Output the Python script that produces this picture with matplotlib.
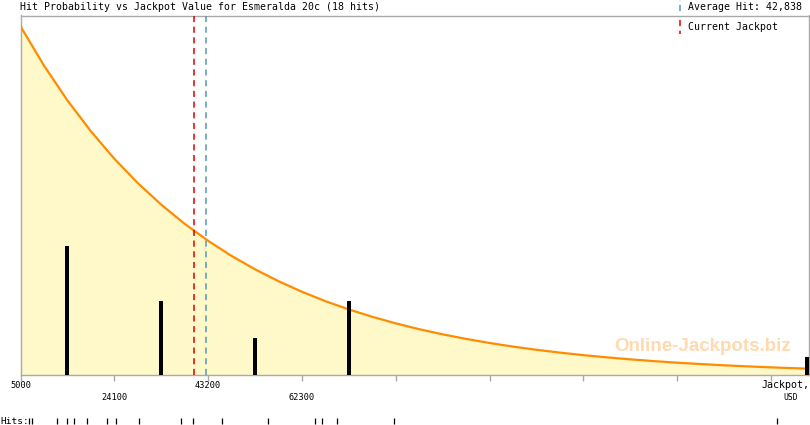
import numpy as np
import matplotlib
matplotlib.use("Agg")
import matplotlib.pyplot as plt
from matplotlib.transforms import blended_transform_factory
from matplotlib.lines import Line2D

# ---------------- data ----------------
title = "Hit Probability vs Jackpot Value for Esmeralda 20c (18 hits)"
hits = [6690, 7300, 12390, 14430, 15850, 18500, 22620, 24400, 29090, 37640,
        40080, 45990, 55350, 64900, 66350, 69400, 81000, 159100]
current_jackpot = 40350
bin_start = 5000
bin_width = 19100
n_bins = 9
tick_values = [5000 + 19100 * k for k in range(9)]
tick_labels = ["5000", "24100", "43200", "62300", "", "", "", "", ""]
# relative hit probability, every 4775 from 5000
curve_x = [5000 + 4775 * i for i in range(35)]
curve_p = [1.000, 0.8875, 0.7876, 0.6990, 0.6203, 0.5505, 0.4886, 0.4336, 0.3848,
           0.3415, 0.3031, 0.2690, 0.2387, 0.2118, 0.1880, 0.1669, 0.1481, 0.1314,
           0.1166, 0.1035, 0.0918, 0.0815, 0.0723, 0.0642, 0.0570, 0.0506, 0.0449,
           0.0398, 0.0353, 0.0314, 0.0278, 0.0247, 0.0219, 0.0195, 0.0173]
x_min, x_max = 5000, 165600

# ---------------- figure ----------------
W, H = 810, 425
fig = plt.figure(figsize=(W / 100, H / 100), dpi=100)
fig.patch.set_facecolor("white")
L, R, T, B = 20.5, 809.3, 15.5, 375.0
ax = fig.add_axes([L / W, (H - B) / H, (R - L) / W, (B - T) / H])
ax.set_xlim(x_min, x_max)
ax.set_ylim(0, 1.031)
ax.set_facecolor("white")

mono = "DejaVu Sans Mono"
gray = "#AAAAAA"

ax.fill_between(curve_x, curve_p, 0, color="#FFF8C8", lw=0, zorder=1)
ax.plot(curve_x, curve_p, color="#FF8C00", lw=1.6, zorder=3, clip_on=True)

ax.text(0.865, 0.08, "Online-Jackpots.biz", transform=ax.transAxes,
        family="Liberation Sans", fontweight="bold", fontsize=13.5,
        color="#FFD9B0", ha="center", va="center", zorder=2)

for s in ax.spines.values():
    s.set_color(gray)
    s.set_linewidth(1.0)
ax.set_yticks([])
ax.set_xticks(tick_values)
ax.set_xticklabels([])
ax.tick_params(axis="x", direction="out", length=4.5, width=1.0, color=gray)

# histogram bars
ax2 = ax.twinx()
ax2.set_ylim(0, 19.55)
ax2.set_yticks([])
for s in ax2.spines.values():
    s.set_visible(False)
edges = [bin_start + bin_width * k for k in range(n_bins + 1)]
counts, _ = np.histogram(hits, bins=edges)
bar_w = 820
centers = [min((edges[k] + edges[k + 1]) / 2, x_max - bar_w / 2) for k in range(n_bins)]
ax2.bar(centers, counts, width=bar_w, color="black", zorder=4)

# average and current jackpot lines
avg = float(np.mean(hits))
ax2.axvline(current_jackpot, color="#DD0000", lw=1.1, ls=(0, (4, 3)), zorder=5)
ax2.axvline(avg, color="#5599BB", lw=1.1, ls=(0, (4, 3)), zorder=5)

# tick labels
bt = blended_transform_factory(ax.transData, fig.transFigure)
for k, (v, lab) in enumerate(zip(tick_values, tick_labels)):
    if not lab:
        continue
    ypix = 385 if k % 2 == 0 else 398
    ax.text(v, (H - ypix) / H, lab, transform=bt, ha="center", va="center",
            family=mono, fontsize=6.2, color="black")
fig.text(R / W, (H - 385) / H, "Jackpot,", ha="right", va="center",
         family=mono, fontsize=7.2, color="black")
fig.text(798 / W, (H - 398) / H, "USD", ha="right", va="center",
         family=mono, fontsize=5.8, color="black")

# title and legend
fig.text(20 / W, (H - 7.5) / H, title, ha="left", va="center",
         family=mono, fontsize=7.1, color="black")
fig.text(688 / W, (H - 7.5) / H, "Average Hit: " + f"{avg:,.0f}", ha="left",
         va="center", family=mono, fontsize=7.1, color="black")
fig.text(688 / W, (H - 27.5) / H, "Current Jackpot", ha="left", va="center",
         family=mono, fontsize=7.1, color="black")
fig.add_artist(Line2D([679.5 / W, 679.5 / W], [(H - 11) / H, (H - 0) / H],
                      transform=fig.transFigure, color="#5599BB", lw=1.1,
                      ls=(0, (4, 3))))
fig.add_artist(Line2D([679.5 / W, 679.5 / W], [(H - 20) / H, (H - 34) / H],
                      transform=fig.transFigure, color="#DD0000", lw=1.1,
                      ls=(0, (4, 3))))

# hits row
fig.text(0, (H - 421) / H, "Hits:", ha="left", va="center",
         family=mono, fontsize=6.8, color="black")
ax.vlines(hits, (H - 424) / H, (H - 418) / H, transform=bt, color="black",
          lw=0.9, clip_on=False)

fig.savefig("out.png", dpi=100, facecolor="white")
